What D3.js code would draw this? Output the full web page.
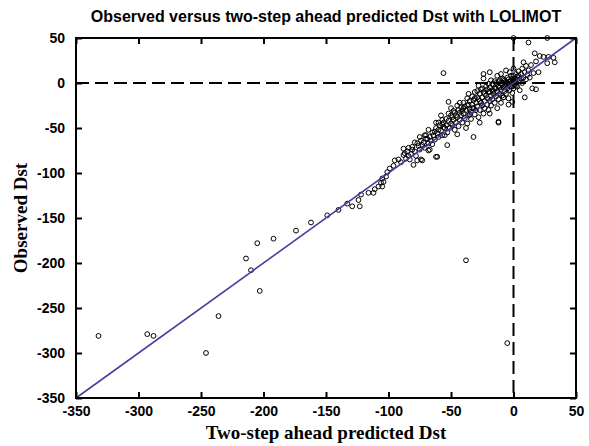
<!DOCTYPE html>
<html>
<head>
<meta charset="utf-8">
<script src="https://cdn.jsdelivr.net/npm/d3@7"></script>
<style>
  body { margin: 0; background: #fff; }
  svg { display: block; }
</style>
</head>
<body>
<div id="chart"></div>
<script>
// predicted (x) and observed (y) Dst
const predicted = [
  -332,-293,-288,-246,-236,-214,-210,-205,-203,-192,-174,-162,-149,-140,-133,-129,-124,-122,-123,-116,
  -112,-111,-108,-105,-106,-104,-102,-101,-96,-92,-88,-87,-83,-80,-78,-81,-81,-77,-74,-73,
  -70,-70,-68,-65,-62,-63,-53,-55,-56,-52,-5,-38,
  -105,-84,-77,-73,-75,-71,-68,-67,-65,-61,-60,-57,-56,-49,-45,-43,-40,-37,-36,-32,-32,-29,-27,-19,-12,-4,-12,
  -90,-86,-85,-82,-79,-76,-74,-72,-71,-69,-67,-66,-64,-63,-62,-61,-60,-59,-58,-57,-56,-55,-54,-53,-52,-51,-50,-50,-49,-48,
  -47,-47,-46,-45,-44,-44,-43,-42,-42,-41,-40,-40,-39,-38,-38,-37,-36,-35,-35,-34,-34,-33,-33,-32,-31,-31,-30,-30,-29,-28,
  -28,-27,-27,-26,-26,-25,-25,-24,-24,-23,-23,-22,-22,-21,-21,-20,-20,-19,-19,-18,-18,-17,-17,-16,-16,-15,-15,-14,-14,-13,
  -13,-12,-12,-11,-11,-10,-10,-9,-9,-8,-8,-7,-7,-6,-6,-5,-5,-4,-4,-3,-3,-2,-2,-1,-1,0,0,1,1,2,
  2,3,3,4,4,5,5,6,6,7,7,8,8,9,9,10,10,11,12,13,14,15,16,17,18,18,20,21,24,27,
  28,32,33,12,0,27,-24,-24,-15,-1,-8,0,-19,-18,-13,-10,-6,-3,-20,-28,-36,-45,-50,-58,-62,-68,-75,-79,-84,-88,
  -95,-99,
  -2,-1,0,1,2,3,-3,-4,-5,-6,-7,-8,-9,-10,-11,-12,-14,-16,-17,-19,-21,-23,-25,-27,-29,-31,-33,-35,-37,-39,
  -41,-43,-46,-48,-52,-54,-57,-60
];
const observed = [
  -281,-279,-281,-300,-259,-195,-208,-178,-231,-173,-164,-155,-147,-141,-134,-137,-130,-124,-137,-122,
  -122,-118,-115,-115,-111,-110,-104,-99,-92,-85,-80,-78,-85,-91,-81,-71,-74,-67,-85,-69,
  -58,-62,-75,-68,-82,-54,-69,-58,11,-21,-289,-197,
  -106,-81,-86,-86,-74,-58,-67,-74,-55,-82,-52,-41,-49,-38,-57,-33,-28,-45,-24,-60,-19,-16,-44,-34,-44,-24,-43,
  -88,-84,-76,-79,-76,-70,-64,-66,-72,-62,-60,-64,-58,-63,-50,-56,-60,-47,-53,-58,-44,-50,-47,-55,-42,-50,-45,-36,-47,-41,
  -33,-52,-44,-38,-30,-48,-41,-36,-27,-44,-34,-22,-39,-30,-50,-25,-36,-29,-20,-40,-32,-24,-15,-28,-35,-10,-22,-30,-26,-38,
  -18,-12,-30,-22,-7,-25,-16,-34,-10,-20,-28,-14,-4,-24,-17,-10,-30,-20,-5,-14,-25,-8,-18,-2,-12,-22,-6,-15,0,-9,
  -28,-4,-18,-12,3,-7,-22,-2,-14,-16,4,-9,-4,1,-12,-6,6,-2,-17,2,-8,-4,8,0,-11,3,-6,5,-2,10,
  0,4,-4,8,13,2,-8,10,5,16,0,6,23,12,-16,19,4,9,14,6,20,-6,11,33,-7,24,12,30,29,22,
  29,28,23,45,50,50,10,5,2,-21,-16,16,12,3,8,10,14,12,-1,-3,-12,-25,-28,-36,-44,-52,-60,-66,-72,-73,
  -86,-95,
  2,5,8,1,-3,7,-1,4,0,-3,3,-5,5,0,-5,1,-6,-9,-1,-10,-7,-12,-6,-20,-9,-17,-28,-35,-17,-26,
  -31,-22,-36,-31,-34,-40,-46,-44
];
const xTicks = [-350, -300, -250, -200, -150, -100, -50, 0, 50];
const yTicks = [50, 0, -50, -100, -150, -200, -250, -300, -350];

const W = 589, H = 446;
const margin = { top: 38, right: 13, bottom: 48, left: 76 },
      width = W - margin.left - margin.right,
      height = H - margin.top - margin.bottom;

const svg = d3.select("#chart").append("svg")
    .attr("width", W)
    .attr("height", H)
    .style("font-family", "'Liberation Sans', Arial, sans-serif");

const g = svg.append("g").attr("transform", `translate(${margin.left},${margin.top})`);

const x = d3.scaleLinear().domain([-350, 50]).range([0, width]);
const y = d3.scaleLinear().domain([-350, 50]).range([height, 0]);
const fmt = d => String(d); // plain hyphen, as in the original

g.append("defs").append("clipPath").attr("id", "clip")
  .append("rect").attr("x", -3).attr("y", -3).attr("width", width + 6).attr("height", height + 6);

// zero reference lines
g.append("line")
    .attr("x1", 0).attr("x2", width)
    .attr("y1", y(0)).attr("y2", y(0))
    .attr("stroke", "#000").attr("stroke-width", 2).attr("stroke-dasharray", "13,6");
g.append("line")
    .attr("x1", x(0)).attr("x2", x(0))
    .attr("y1", 0).attr("y2", height)
    .attr("stroke", "#000").attr("stroke-width", 2).attr("stroke-dasharray", "13,6");

// points
const pts = d3.range(predicted.length);
g.append("g").attr("clip-path", "url(#clip)")
  .selectAll("circle")
  .data(pts)
  .enter()
  .append("circle")
    .attr("cx", i => x(predicted[i]))
    .attr("cy", i => y(observed[i]))
    .attr("r", 2.4)
    .attr("fill", "none")
    .attr("stroke", "#000")
    .attr("stroke-width", 1);

// y = x line
g.append("line")
    .attr("x1", x(-350)).attr("y1", y(-350))
    .attr("x2", x(50)).attr("y2", y(50))
    .attr("stroke", "#4b3c9e").attr("stroke-width", 1.6);

// axes (ticks inward on all sides)
const tickStyle = sel => {
  sel.select(".domain").remove();
  sel.selectAll(".tick line").attr("stroke", "#000").attr("stroke-width", 2);
  sel.selectAll(".tick text")
    .style("font-size", "14px")
    .style("font-weight", "bold")
    .attr("fill", "#000");
};

g.append("g")
    .attr("transform", `translate(0,${height})`)
    .call(d3.axisBottom(x).tickValues(xTicks).tickFormat(fmt).tickSizeInner(-6).tickSizeOuter(0).tickPadding(8))
    .call(tickStyle);

g.append("g")
    .call(d3.axisTop(x).tickValues(xTicks).tickSizeInner(-6).tickSizeOuter(0).tickFormat(""))
    .call(tickStyle);

g.append("g")
    .call(d3.axisLeft(y).tickValues(yTicks).tickFormat(fmt).tickSizeInner(-6).tickSizeOuter(0).tickPadding(11))
    .call(tickStyle);

g.append("g")
    .attr("transform", `translate(${width},0)`)
    .call(d3.axisRight(y).tickValues(yTicks).tickSizeInner(-6).tickSizeOuter(0).tickFormat(""))
    .call(tickStyle);

// frame
g.append("rect")
    .attr("width", width).attr("height", height)
    .attr("fill", "none").attr("stroke", "#000").attr("stroke-width", 2);

// title
svg.append("text")
    .attr("x", margin.left + width / 2)
    .attr("y", 22)
    .attr("text-anchor", "middle")
    .style("font-size", "16px")
    .style("font-weight", "bold")
    .text("Observed versus two-step ahead predicted Dst with LOLIMOT");

// X axis label
svg.append("text")
    .attr("x", margin.left + width / 2)
    .attr("y", 439)
    .attr("text-anchor", "middle")
    .style("font-family", "'Liberation Serif', 'Times New Roman', serif")
    .style("font-size", "19px")
    .style("font-weight", "bold")
    .text("Two-step ahead predicted Dst");

// Y axis label
svg.append("text")
    .attr("text-anchor", "middle")
    .attr("transform", `translate(27,${margin.top + height / 2}) rotate(-90)`)
    .style("font-family", "'Liberation Serif', 'Times New Roman', serif")
    .style("font-size", "19px")
    .style("font-weight", "bold")
    .text("Observed Dst");
</script>
</body>
</html>
